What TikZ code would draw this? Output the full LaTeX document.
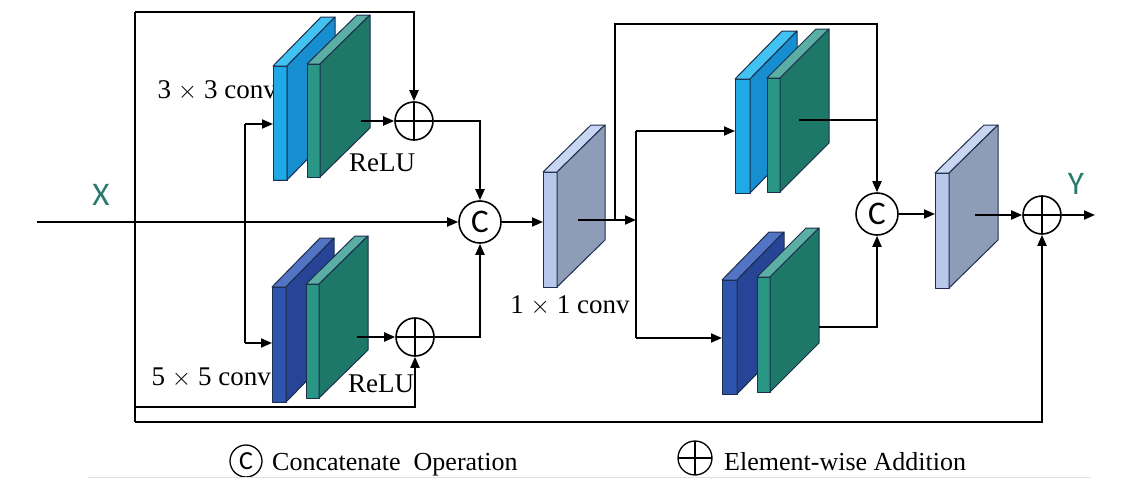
\documentclass[tikz,border=0pt]{standalone}
\usepackage{fontspec}
\setmainfont{Liberation Serif}
\newfontfamily\sansf{Carlito}
\usetikzlibrary{arrows.meta}
\definecolor{lbF}{HTML}{1FA9E6}
\definecolor{lbS}{HTML}{168ED0}
\definecolor{lbT}{HTML}{42C2F0}
\definecolor{grF}{HTML}{2A9686}
\definecolor{grS}{HTML}{1E7868}
\definecolor{grT}{HTML}{5BAEA3}
\definecolor{dbF}{HTML}{2E54AE}
\definecolor{dbS}{HTML}{284496}
\definecolor{dbT}{HTML}{5373C4}
\definecolor{lvF}{HTML}{B8C8EC}
\definecolor{lvS}{HTML}{8F9CB8}
\definecolor{lvT}{HTML}{C9D6F2}
\definecolor{slabedge}{HTML}{1C2E4E}
\definecolor{xyteal}{HTML}{2A7A6E}
\newcommand\mkslab[9]{%
  \filldraw[slabline, fill=#7] (#1,#2) rectangle ({#1+#4},#3);
  \filldraw[slabline, fill=#9] (#1,#2) -- ({#1+#4},#2) -- ({#1+#4+#5},{#2-#6}) -- ({#1+#5},{#2-#6}) -- cycle;
  \filldraw[slabline, fill=#8] ({#1+#4},#2) -- ({#1+#4+#5},{#2-#6}) -- ({#1+#4+#5},{#3-#6}) -- ({#1+#4},#3) -- cycle;
}
\tikzset{
  slabline/.style={draw=slabedge, line width=1pt, line join=round},
  conn/.style={line width=1.9pt, draw=black},
  arr/.style={conn, -{Triangle[length=11pt,width=9pt]}},
  lbl/.style={font=\fontsize{27}{32}\selectfont, inner sep=0pt},
  lgd/.style={font=\fontsize{26}{30}\selectfont, inner sep=0pt},
  xy/.style={font=\sansf\fontsize{33}{36}\selectfont, text=xyteal, inner sep=0pt},
  opc/.style={circle, draw, line width=1.6pt, minimum size=42pt, inner sep=0pt, fill=white, font=\sansf\fontsize{33}{36}\selectfont},
  opp/.style={circle, draw, line width=1.6pt, minimum size=38pt, inner sep=0pt, fill=white,
    path picture={\draw[line width=1.6pt] (path picture bounding box.north) -- (path picture bounding box.south)
      (path picture bounding box.west) -- (path picture bounding box.east);}},
}
\begin{document}
\begin{tikzpicture}[x=1pt,y=-1pt]
\useasboundingbox (0,0) rectangle (1126,479);
\fill[white] (0,0) rectangle (1126,479);

% labels behind slabs
\node[lbl, anchor=base east] (l33) at (277,98) {3 $\times$ 3 conv};
\node[lbl, anchor=base east] (l55) at (271,385) {5 $\times$ 5 conv};
\node[lbl] (relu1) at (382,163) {ReLU};
\node[lbl] (relu2) at (381,384) {ReLU};
\node[lbl, anchor=base] (l11) at (570,313) {1 $\times$ 1 conv};
\node[xy] (X) at (101,195) {X};
\node[xy] (Y) at (1076,184) {Y};

% slabs
\mkslab{273}{66}{180}{14}{48}{49}{lbS}{lbS}{lbT}
\fill[lbF] (274,67) rectangle (286,179);
\mkslab{307}{64}{177}{13}{50}{49}{grF}{grS}{grT}
\mkslab{272}{287}{402}{14}{48}{49}{dbF}{dbS}{dbT}
\mkslab{306}{284}{398}{13}{49}{48}{grF}{grS}{grT}
\mkslab{543}{172}{287}{14}{48}{47}{lvF}{lvS}{lvT}
\mkslab{735}{79}{193}{15}{47}{48}{lbF}{lbS}{lbT}
\mkslab{767}{78}{192}{13}{49}{49}{grF}{grS}{grT}
\mkslab{722}{280}{394}{15}{47}{48}{dbF}{dbS}{dbT}
\mkslab{757}{277}{392}{13}{49}{49}{grF}{grS}{grT}
\mkslab{935}{173}{288}{14}{49}{48}{lvF}{lvS}{lvT}

% operator nodes
\node[opc] (C1) at (480,222) {C};
\node[opp] (P1) at (414,121) {};
\node[opp] (P2) at (415,337) {};
\node[opc] (C2) at (877,214) {C};
\node[opp] (P3) at (1042,215) {};

% coordinates
\coordinate (in) at (37,222);
\coordinate (vt) at (135,12);
\coordinate (vb) at (135,422);
\coordinate (vm) at (135,407);
\coordinate (b1) at (245,124);
\coordinate (b2) at (245,343);
\coordinate (s1in) at (273,124);
\coordinate (s2in) at (272,343);
\coordinate (g1out) at (361,121);
\coordinate (g2out) at (357,337);
\coordinate (s3in) at (543,222);
\coordinate (s3out) at (578,220);
\coordinate (sp) at (636,220);
\coordinate (tp) at (615,220);
\coordinate (tt) at (615,24);
\coordinate (q1) at (636,131);
\coordinate (q2) at (636,338);
\coordinate (s4in) at (735,131);
\coordinate (s5in) at (722,338);
\coordinate (g4out) at (799,120);
\coordinate (g5out) at (819,327);
\coordinate (s6in) at (935,214);
\coordinate (s6out) at (975,215);
\coordinate (yout) at (1095,215);

% connectors
\draw[arr] (in) -- (C1.west);
\draw[conn] (vt) -- (vb);
\draw[arr] (vt) -| (P1.north);
\draw[arr] (vm) -| (P2.south);
\draw[arr] (vb) -| (P3.south);
\draw[conn] (b1) -- (b2);
\draw[arr] (b1) -- (s1in);
\draw[arr] (b2) -- (s2in);
\draw[arr] (g1out) -- (P1.west);
\draw[arr] (g2out) -- (P2.west);
\draw[arr] (P1.east) -| (C1.north);
\draw[arr] (P2.east) -| (C1.south);
\draw[arr] (C1.east) -- (s3in);
\draw[arr] (s3out) -- (sp);
\draw[conn] (q1) -- (q2);
\draw[arr] (tp) -- (tt) -| (C2.north);
\draw[arr] (q1) -- (s4in);
\draw[arr] (q2) -- (s5in);
\draw[conn] (g4out) -- (C2.north |- g4out);
\draw[arr] (g5out) -| (C2.south);
\draw[arr] (C2.east) -- (s6in);
\draw[arr] (s6out) -- (P3.west);
\draw[arr] (P3.east) -- (yout);

% legend
\node[opc, minimum size=32pt, line width=1.3pt, font=\sansf\fontsize{26}{28}\selectfont] (LC) at (246,461) {C};
\node[lgd, anchor=base west] (LCt) at (272,470) {Concatenate\ \ Operation};
\node[opp, minimum size=34pt, line width=1.3pt] (LP) at (695,458) {};
\node[lgd, anchor=base west] (LPt) at (724,470) {Element-wise Addition};
\draw[black!12, line width=1pt] (88,477) -- (1091,477);
\end{tikzpicture}
\end{document}
